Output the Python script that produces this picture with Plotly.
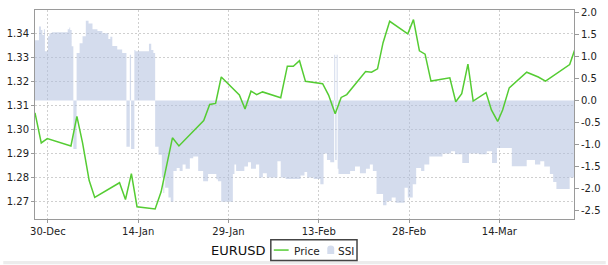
import plotly.graph_objects as go

# ---------------- data ----------------
price_dates = [
    "2011-12-27 20:38", "2011-12-28 21:36", "2011-12-29 21:36", "2012-01-02 19:55",
    "2012-01-03 19:40", "2012-01-04 18:14", "2012-01-05 20:38", "2012-01-06 18:43",
    "2012-01-10 21:36", "2012-01-11 21:22", "2012-01-12 20:53", "2012-01-13 19:26",
    "2012-01-16 19:41", "2012-01-17 19:26", "2012-01-19 16:34", "2012-01-20 18:29",
    "2012-01-24 21:22", "2012-01-25 21:07", "2012-01-26 20:38", "2012-01-27 19:12",
    "2012-01-30 19:26", "2012-01-31 18:00", "2012-02-01 17:46", "2012-02-02 16:19",
    "2012-02-03 15:50", "2012-02-06 16:19", "2012-02-07 18:43", "2012-02-08 18:29",
    "2012-02-09 19:12", "2012-02-10 18:58", "2012-02-13 15:22", "2012-02-14 15:07",
    "2012-02-15 17:31", "2012-02-16 17:17", "2012-02-17 15:36", "2012-02-20 18:43",
    "2012-02-21 18:29", "2012-02-22 18:14", "2012-02-23 16:19", "2012-02-24 18:43",
    "2012-02-27 18:58", "2012-02-28 17:31", "2012-02-29 17:17", "2012-03-01 15:50",
    "2012-03-02 15:22", "2012-03-05 18:29", "2012-03-06 18:14", "2012-03-07 18:00",
    "2012-03-08 18:43", "2012-03-09 15:36", "2012-03-11 18:58", "2012-03-12 16:19",
    "2012-03-13 17:17", "2012-03-14 13:00", "2012-03-15 15:22", "2012-03-18 13:00",
    "2012-03-20 11:17", "2012-03-21 16:05", "2012-03-25 16:19", "2012-03-26 12:14",
]
price_values = [
    1.3068, 1.2943, 1.2961, 1.2930, 1.3053, 1.2943, 1.2786, 1.2716,
    1.2777, 1.2707, 1.2815, 1.2677, 1.2668, 1.2739, 1.2964, 1.2930,
    1.3036, 1.3103, 1.3107, 1.3217, 1.3142, 1.3084, 1.3158, 1.3144,
    1.3155, 1.3131, 1.3262, 1.3262, 1.3285, 1.3199, 1.3189, 1.3142,
    1.3064, 1.3132, 1.3144, 1.3240, 1.3237, 1.3251, 1.3360, 1.3449,
    1.3397, 1.3456, 1.3326, 1.3312, 1.3200, 1.3214, 1.3114, 1.3148,
    1.3271, 1.3117, 1.3152, 1.3080, 1.3032, 1.3080, 1.3172, 1.3237,
    1.3217, 1.3200, 1.3269, 1.3329,
]

ssi_dates = [
    "2011-12-27 20:38", "2011-12-28 12:30", "2011-12-28 20:24", "2011-12-29 02:10",
    "2011-12-29 08:10", "2011-12-29 12:10", "2011-12-30 00:00", "2011-12-30 06:00",
    "2011-12-30 15:50", "2012-01-02 07:00", "2012-01-02 13:40", "2012-01-02 16:50",
    "2012-01-02 22:50", "2012-01-03 05:30", "2012-01-03 18:30", "2012-01-04 06:30",
    "2012-01-04 18:15", "2012-01-05 07:10", "2012-01-05 18:00", "2012-01-06 09:50",
    "2012-01-07 05:30", "2012-01-08 01:10", "2012-01-09 01:00", "2012-01-09 08:50",
    "2012-01-09 16:50", "2012-01-10 12:30", "2012-01-11 08:10", "2012-01-12 01:10",
    "2012-01-12 14:40", "2012-01-12 19:40", "2012-01-13 08:50", "2012-01-13 12:50",
    "2012-01-15 19:00", "2012-01-16 04:00", "2012-01-16 12:40", "2012-01-16 19:40",
    "2012-01-17 09:10", "2012-01-17 22:20", "2012-01-18 04:10", "2012-01-18 08:10",
    "2012-01-18 11:20", "2012-01-19 00:40", "2012-01-19 09:50", "2012-01-19 20:25",
    "2012-01-20 09:35", "2012-01-20 21:25", "2012-01-21 09:10", "2012-01-21 21:05",
    "2012-01-22 14:00", "2012-01-23 03:25", "2012-01-23 23:15", "2012-01-24 19:00",
    "2012-01-25 14:40", "2012-01-26 23:30", "2012-01-27 06:00", "2012-01-27 19:10",
    "2012-01-29 17:30", "2012-01-29 23:45", "2012-01-30 06:30", "2012-01-31 15:20",
    "2012-02-01 05:50", "2012-02-01 17:45", "2012-02-02 13:30", "2012-02-03 02:25",
    "2012-02-03 17:05", "2012-02-04 08:50", "2012-02-06 03:10", "2012-02-06 16:20",
    "2012-02-07 12:00", "2012-02-09 23:20", "2012-02-10 15:05", "2012-02-11 01:40",
    "2012-02-12 03:50", "2012-02-13 06:10", "2012-02-13 19:10", "2012-02-14 08:40",
    "2012-02-14 21:40", "2012-02-15 13:30", "2012-02-15 17:30", "2012-02-15 23:20",
    "2012-02-16 03:20", "2012-02-16 06:30", "2012-02-18 04:50", "2012-02-19 00:30",
    "2012-02-19 20:10", "2012-02-20 20:00", "2012-02-21 11:45", "2012-02-21 23:35",
    "2012-02-22 14:15", "2012-02-23 16:20", "2012-02-24 05:50", "2012-02-25 02:40",
    "2012-02-25 18:30", "2012-02-27 06:00", "2012-02-27 19:00", "2012-02-28 14:40",
    "2012-02-29 04:20", "2012-03-01 00:00", "2012-03-01 13:00", "2012-03-02 08:40",
    "2012-03-04 13:10", "2012-03-05 23:30", "2012-03-06 15:20", "2012-03-07 20:10",
    "2012-03-08 22:50", "2012-03-10 14:20", "2012-03-11 21:50", "2012-03-12 18:45",
    "2012-03-13 14:25", "2012-03-16 01:40", "2012-03-18 13:00", "2012-03-19 22:05",
    "2012-03-20 19:10", "2012-03-21 11:00", "2012-03-22 09:25", "2012-03-22 22:30",
    "2012-03-23 11:30", "2012-03-25 16:20", "2012-03-26 09:36",
]
ssi_values = [
    1.37, 1.68, 1.60, 1.49,
    1.62, 1.12, 1.46, 1.53,
    1.55, 1.62, 1.66, 1.60,
    1.23, -1.10, 1.08, 1.30,
    1.46, 1.81, 1.75, 1.62,
    1.58, 1.53, 1.40, 1.45,
    1.24, 1.16, 1.08, -1.05,
    1.04, -1.10, 1.15, 1.12,
    1.29, 1.15, 1.08, -1.05,
    -1.23, -1.75, -2.10, -1.75,
    -1.98, -2.20, -2.30, -1.60,
    -1.53, -1.60, -1.45, -1.55,
    -1.31, -1.27, -1.60, -1.83,
    -1.67, -1.79, -1.83, -2.30,
    -1.67, -1.45, -1.60, -1.50,
    -1.40, -1.55, -1.45, -1.75,
    -1.65, -1.75, -1.38, -1.75,
    -1.78, -1.70, -1.62, -1.75,
    -1.78, -1.90, -1.20, -1.35,
    -1.40, 1.04, -1.35, 1.04,
    -1.55, -1.67, -1.60, -1.50,
    -1.65, -1.55, -1.45, -1.60,
    -2.12, -2.38, -2.28, -2.20,
    -2.32, -1.98, -2.20, -1.90,
    -1.53, -1.60, -1.45, -1.27,
    -1.20, -1.15, -1.22, -1.42,
    -1.20, -1.22, -1.15, -1.42,
    -1.08, -1.49, -1.35, -1.45,
    -1.38, -1.50, -1.67, -1.85,
    -2.01, -1.75, -1.75,
]

price_ticks = [1.27, 1.28, 1.29, 1.30, 1.31, 1.32, 1.33, 1.34]
price_ticktext = ["1.27", "1.28", "1.29", "1.30", "1.31", "1.32", "1.33", "1.34"]
ssi_ticks = [-2.5, -2.0, -1.5, -1.0, -0.5, 0.0, 0.5, 1.0, 1.5, 2.0]
ssi_ticktext = ["-2.5", "-2.0", "-1.5", "-1.0", "-0.5", "0.0", "0.5", "1.0", "1.5", "2.0"]

symbol = "EURUSD"
legend_labels = ["Price", "SSI"]

# ---------------- style ----------------
FONT = "DejaVu Sans"
GREEN = "#55CC33"
FILL = "rgba(176,192,222,0.55)"
FILL_SOLID = "#D4DCED"
GRID = "#cfcfcf"
AXIS = "#9a9a9a"

W, H = 608, 265
ML, MR, MT, MB = 32, 32, 7, 46
PW, PH = W - ML - MR, H - MT - MB


def px(x):
    return (x - ML) / PW


def py(y):
    return (H - MB - y) / PH


fig = go.Figure()
fig.add_trace(go.Scatter(
    x=ssi_dates, y=ssi_values, yaxis="y2", mode="lines", line_shape="hv",
    line=dict(width=0, color=FILL), fill="tozeroy", fillcolor=FILL,
    name=legend_labels[1], showlegend=False, hoverinfo="skip",
))
fig.add_trace(go.Scatter(
    x=price_dates, y=price_values, yaxis="y", mode="lines",
    line=dict(width=1.5, color=GREEN), name=legend_labels[0], showlegend=False,
))

tickfont = dict(family=FONT, size=10, color="#222")
fig.update_layout(
    width=W, height=H, margin=dict(l=ML, r=MR, t=MT, b=MB, pad=0),
    paper_bgcolor="white", plot_bgcolor="white", showlegend=False,
    xaxis=dict(
        type="date", range=["2011-12-27 20:38", "2012-03-26 09:36"],
        tick0="2011-12-30", dtick=15 * 86400000, tickformat="%d-%b",
        showgrid=True, gridcolor=GRID, griddash="2px,2px", gridwidth=1,
        showline=True, linecolor=AXIS, linewidth=1, mirror=True,
        ticks="outside", ticklen=3, tickcolor=AXIS, tickfont=tickfont,
        zeroline=False,
    ),
    yaxis2=dict(
        range=[-2.69, 2.056], side="right", tickvals=ssi_ticks, ticktext=ssi_ticktext,
        showgrid=False, zeroline=False, showline=True, linecolor=AXIS, linewidth=1,
        ticks="outside", ticklen=4, tickcolor=AXIS, tickfont=tickfont,
    ),
    yaxis=dict(
        range=[1.2626, 1.3496], overlaying="y2", side="left",
        tickvals=price_ticks, ticktext=price_ticktext,
        showgrid=True, gridcolor=GRID, griddash="2px,2px", gridwidth=1,
        zeroline=False, showline=True, linecolor=AXIS, linewidth=1,
        ticks="outside", ticklen=3, tickcolor=AXIS, tickfont=tickfont,
    ),
)

# ---- manual legend ----
shapes = [
    dict(type="rect", xref="paper", yref="paper", x0=px(0), x1=px(W), y0=py(261.5), y1=py(H),
         fillcolor="#ececec", line=dict(width=0)),
    dict(type="rect", xref="paper", yref="paper", x0=px(270), x1=px(357), y0=py(261), y1=py(240),
         fillcolor="white", line=dict(color="#444", width=1.5)),
    dict(type="line", xref="paper", yref="paper", x0=px(273), x1=px(288), y0=py(250.5), y1=py(250.5),
         line=dict(color=GREEN, width=1.5)),
    dict(type="path", xref="paper", yref="paper",
         path=f"M {px(327)} {py(254.5)} L {px(327)} {py(249)} Q {px(327)} {py(246)} {px(330.5)} {py(246)} "
              f"Q {px(334)} {py(246)} {px(334)} {py(249)} L {px(334)} {py(254.5)} Z",
         fillcolor=FILL_SOLID, line=dict(width=0)),
]
annotations = [
    dict(text=symbol, xref="paper", yref="paper", x=px(208), y=py(251), xanchor="left", yanchor="middle",
         showarrow=False, font=dict(family=FONT, size=13, color="#111")),
    dict(text=legend_labels[0], xref="paper", yref="paper", x=px(291), y=py(251), xanchor="left",
         yanchor="middle", showarrow=False, font=dict(family=FONT, size=10.5, color="#222")),
    dict(text=legend_labels[1], xref="paper", yref="paper", x=px(336), y=py(251), xanchor="left",
         yanchor="middle", showarrow=False, font=dict(family=FONT, size=10.5, color="#222")),
]
fig.update_layout(shapes=shapes, annotations=annotations)

fig.write_html("out.html")
